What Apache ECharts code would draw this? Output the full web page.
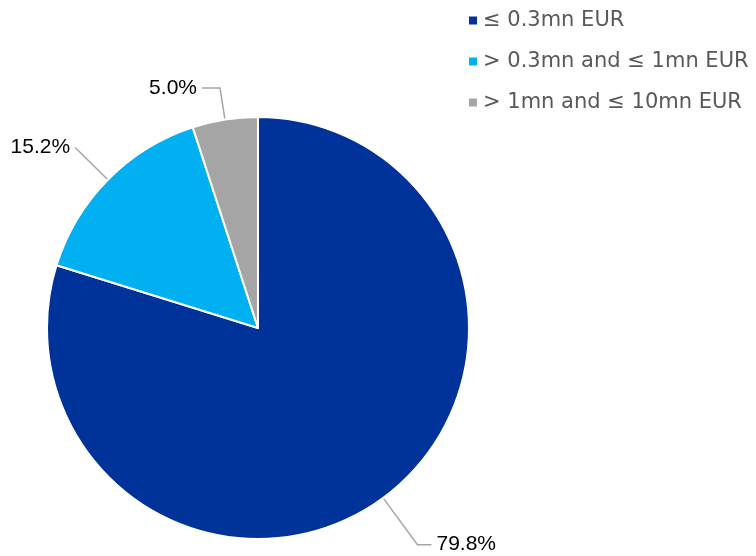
<!DOCTYPE html>
<html>
<head>
<meta charset="utf-8">
<script src="https://cdn.jsdelivr.net/npm/echarts@6/dist/echarts.min.js"></script>
<style>
  html, body { margin: 0; padding: 0; background: #fff; }
  #chart { width: 756px; height: 556px; }
</style>
</head>
<body>
<div id="chart"></div>
<script>
var categories = ["≤ 0.3mn EUR", "> 0.3mn and ≤ 1mn EUR", "> 1mn and ≤ 10mn EUR"];
var shares = [79.8, 15.2, 5.0];
var colors = ["#003399", "#00B0F0", "#A5A5A5"];

// leader line lengths per slice, [first segment, second segment]
var leaderLines = [[58, 14], [46, 0], [32, 18]];

var data = [];
for (let i = 0; i < categories.length; i++) {
  data.push({
    name: categories[i],
    value: shares[i],
    labelLine: { length: leaderLines[i][0], length2: leaderLines[i][1] }
  });
}

var option = {
  animation: false,
  color: colors,
  legend: {
    orient: "vertical",
    left: 462,
    top: 5,
    itemWidth: 10,
    itemHeight: 10,
    itemGap: 20,
    icon: "rect",
    textStyle: { fontFamily: "DejaVu Sans", fontSize: 21, color: "#595959" },
    data: categories
  },
  series: [
    {
      type: "pie",
      center: [258, 328],
      radius: 211,
      startAngle: 90,
      clockwise: true,
      data: data,
      itemStyle: { borderColor: "#fff", borderWidth: 2 },
      label: {
        formatter: function (p) { return p.value.toFixed(1) + "%"; },
        fontFamily: "Liberation Sans",
        fontSize: 21,
        color: "#000",
        overflow: "none",
        edgeDistance: 0
      },
      labelLine: {
        lineStyle: { color: "#A5A5A5", width: 1.5 }
      }
    }
  ]
};

var myChart = echarts.init(document.getElementById("chart"));
myChart.setOption(option);
</script>
</body>
</html>
